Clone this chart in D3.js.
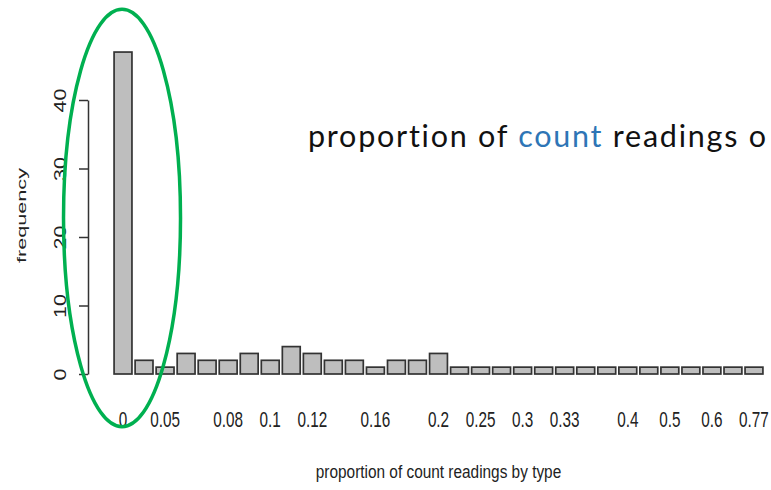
<!DOCTYPE html>
<html><head><meta charset="utf-8">
<script src="https://cdn.jsdelivr.net/npm/d3@7"></script>
<style>body{margin:0;background:#fff}svg{display:block}text{white-space:pre}</style>
</head><body>
<script>
// ---- data ----
const categories = ["0","0.04","0.05","0.06","0.07","0.08","0.09","0.1","0.11","0.12","0.13","0.14","0.16","0.17","0.18","0.2",
                    "0.22","0.25","0.29","0.3","0.32","0.33","0.36","0.38","0.4","0.43","0.5","0.56","0.6","0.67","0.77"];
const frequencies = [47,2,1,3,2,2,3,2,4,3,2,2,1,2,2,3,1,1,1,1,1,1,1,1,1,1,1,1,1,1,1];
const tickLabels = ["0","0.05","0.08","0.1","0.12","0.16","0.2","0.25","0.3","0.33","0.4","0.5","0.6","0.77"];
const yTicks = [0,10,20,30,40];
const yTitle = "frequency";
const xTitle = "proportion of count readings by type";
const overlayParts = ["proportion of ","count"," readings o"];

// ---- chart ----
const W = 771, H = 490;
const svg = d3.select("body").append("svg").attr("width", W).attr("height", H);
const font = "'Liberation Sans', Arial, sans-serif";

const x = d3.scaleBand().domain(categories).range([112.5, 764.5]).paddingInner(0.15).paddingOuter(0.075);
const y = d3.scaleLinear().domain([0, 40]).range([374, 100]);

// bars
svg.append("g").selectAll("rect").data(categories).join("rect")
  .attr("x", d => x(d))
  .attr("y", (d, i) => y(frequencies[i]))
  .attr("width", x.bandwidth())
  .attr("height", (d, i) => y(0) - y(frequencies[i]))
  .attr("fill", "#bebebe")
  .attr("stroke", "#333")
  .attr("stroke-width", 1.7);

// y axis
const ya = svg.append("g").attr("transform", "translate(88,0)")
  .call(d3.axisLeft(y).tickValues(yTicks).tickSize(9).tickSizeOuter(0));
ya.select(".domain").attr("stroke", "#333").attr("stroke-width", 1.5);
ya.selectAll(".tick line").attr("stroke", "#333").attr("stroke-width", 1.5);
ya.selectAll(".tick text")
  .attr("x", null).attr("dy", null)
  .attr("text-anchor", "middle")
  .attr("transform", "translate(-22,0) rotate(-90) scale(1.3,1)")
  .attr("fill", "#222")
  .style("font-family", font).style("font-size", "16.5px");

// x axis (labels only)
const xa = svg.append("g").attr("transform", "translate(0,374)")
  .call(d3.axisBottom(x).tickValues(tickLabels).tickSize(0));
xa.select(".domain").remove();
xa.selectAll(".tick text")
  .attr("y", null).attr("dy", null)
  .attr("transform", "translate(0,52.5) scale(1,1.42)")
  .attr("fill", "#222")
  .style("font-family", font).style("font-size", "15.3px");

// axis titles
svg.append("text")
  .attr("transform", "translate(438.5,478) scale(1,1.19)")
  .attr("text-anchor", "middle").attr("fill", "#222")
  .style("font-family", font).style("font-size", "15.4px")
  .text(xTitle);
svg.append("text")
  .attr("transform", "translate(25.5,215.5) rotate(-90) scale(1.64,1)")
  .attr("text-anchor", "middle").attr("fill", "#222")
  .style("font-family", font).style("font-size", "13.2px")
  .text(yTitle);

// green highlight ellipse
svg.append("ellipse")
  .attr("cx", x(categories[0]) + x.bandwidth() / 2 - 1)
  .attr("cy", 218).attr("rx", 58.5).attr("ry", 208.7)
  .attr("fill", "none").attr("stroke", "#00B050").attr("stroke-width", 3.5);

// overlay caption
const ov = svg.append("text")
  .attr("x", 308).attr("y", 147)
  .attr("textLength", 458).attr("lengthAdjust", "spacing")
  .attr("fill", "#111")
  .style("font-family", "Lato, 'Open Sans', sans-serif").style("font-size", "30.5px")
  .style("font-variant-ligatures", "none").style("font-feature-settings", "'liga' 0");
ov.selectAll("tspan").data(overlayParts).join("tspan")
  .attr("fill", (d, i) => i === 1 ? "#2E75B6" : "#111")
  .text(d => d);
</script>
</body></html>
